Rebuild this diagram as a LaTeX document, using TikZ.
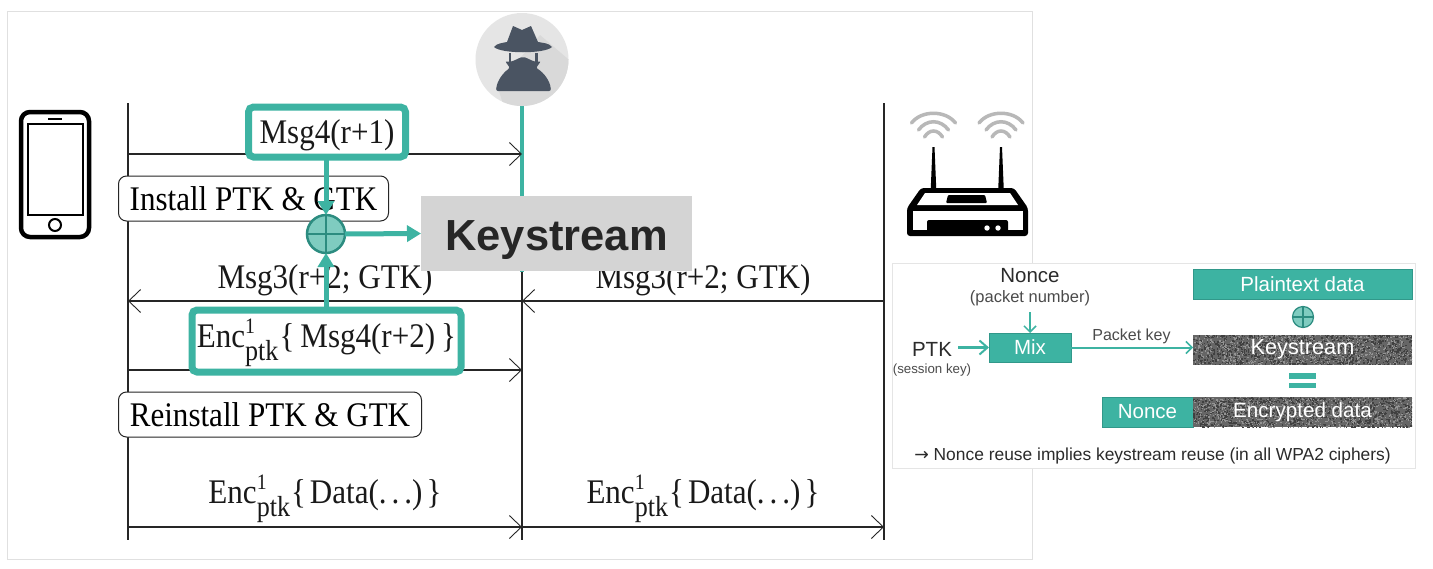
\documentclass[tikz,border=0pt]{standalone}
\usepackage{fontspec}
\setmainfont[FakeStretch=0.9]{Liberation Serif}
\setsansfont{Liberation Sans}
\newfontfamily\arrowfont{DejaVu Sans}
\usetikzlibrary{arrows.meta,calc}
\definecolor{tealmain}{HTML}{3DB3A2}
\definecolor{tealedge}{HTML}{2C8C80}
\definecolor{tealsoft}{HTML}{7FCCC0}
\definecolor{spydark}{HTML}{4A5462}
\definecolor{textdark}{HTML}{2B2B2B}
\newcommand{\encptk}{Enc\rlap{\raisebox{14pt}{\fontsize{22}{24}\selectfont 1}}\raisebox{-13.5pt}{\fontsize{29}{30}\selectfont ptk}\hspace{1pt}}

\begin{document}
\begin{tikzpicture}[
        x=1pt, y=-1pt,
        every node/.style={inner sep=0pt, outer sep=0pt},
        lifeline/.style={line width=1.3pt, black!85},
        message/.style={line width=1.3pt, black!85, -{Straight Barb[length=12pt,width=23pt,line width=0.9pt]}},
        msglabel/.style={font=\fontsize{34.5}{38}\selectfont, text=black!90},
        statebox/.style={draw=black!85, line width=1pt, fill=white, rounded corners=8pt, minimum height=45pt, font=\fontsize{34.5}{38}\selectfont},
        highlight/.style={draw=tealmain, line width=7pt, fill=white, rounded corners=5pt},
        tealarrow/.style={draw=tealmain, line width=5pt, -{Triangle[length=14pt,width=16pt]}},
        xorsign/.style={circle, draw=tealedge, fill=tealsoft, line width=2.5pt, minimum size=38pt},
        panellabel/.style={font=\sffamily\fontsize{20.5}{24}\selectfont, text=textdark},
        panelsmall/.style={font=\sffamily\fontsize{16.5}{19}\selectfont, text=textdark!85},
        panelarrow/.style={draw=tealmain, line width=2pt, -{Straight Barb[length=6pt,width=12pt,line width=1.5pt]}},
        tealbox/.style={draw=tealedge!70!tealmain, line width=0.8pt, fill=tealmain, text=white, font=\sffamily\fontsize{20.5}{24}\selectfont},
        noisebox/.style={fill=black!60, text=white, font=\sffamily\fontsize{20.6}{24}\selectfont,
            path picture={
                \foreach \i in {1,...,900} {
                    \fill[black!75] ([shift={(rnd*220,rnd*31)}]path picture bounding box.north west) rectangle +(1.5,1.5);
                    \fill[black!42] ([shift={(rnd*220,rnd*31)}]path picture bounding box.north west) rectangle +(1.2,1.2);
                }
            }}
    ]
    \useasboundingbox (0,0) rectangle (1433,568);
    \pgfmathsetseed{7}

    % Slide frame
    \node[draw=black!12, line width=1pt, fill=white, minimum width=1025pt, minimum height=548pt] (slide) at (519.5,285) {};

    % Lifelines
    \coordinate (clienttop) at (128,103);
    \coordinate (clientend) at (128,540);
    \coordinate (spytop) at (522,106);
    \coordinate (spymid) at (522,272);
    \coordinate (spyend) at (522,540);
    \coordinate (aptop) at (884,103);
    \coordinate (apend) at (884,540);
    \draw[lifeline] (clienttop) -- (clientend);
    \draw[lifeline] (spymid) -- (spyend);
    \draw[lifeline] (aptop) -- (apend);
    \draw[draw=tealmain, line width=4.5pt] (spytop) -- (spymid);

    % Message ends
    \coordinate (m4a) at (128,154);
    \coordinate (m4b) at (522,154);
    \coordinate (m3a) at (884,301);
    \coordinate (m3b) at (522,301);
    \coordinate (m3c) at (128,301);
    \coordinate (e4a) at (128,370);
    \coordinate (e4b) at (522,370);
    \coordinate (d1a) at (128,527);
    \coordinate (d1b) at (522,527);
    \coordinate (d1c) at (884,527);
    \draw[message] (m4a) -- (m4b);
    \draw[message] (m3a) -- (m3b);
    \draw[message] (m3b) -- (m3c);
    \draw[message] (e4a) -- (e4b);
    \draw[message] (d1a) -- (d1b);
    \draw[message] (d1b) -- (d1c);

    % Labels and states
    \node[msglabel, anchor=base] (m3left) at (325,288) {Msg3(r+2; GTK)};
    \node[msglabel, anchor=base] (m3right) at (703,288) {Msg3(r+2; GTK)};
    \node[statebox, minimum width=270pt, text height=28pt, text depth=5pt] (install) at (253.5,198.5) {Install PTK \& GTK};
    \node[statebox, minimum width=303pt, text height=28pt, text depth=5pt] (reinstall) at (270,414.5) {Reinstall PTK \& GTK};
    \node[msglabel, anchor=base] (data1) at (325,503) {\encptk\{\hspace{4pt}Data(.\hspace{5pt}.\hspace{5pt}.)\hspace{4pt}\}};
    \node[msglabel, anchor=base] (data2) at (703,503) {\encptk\{\hspace{4pt}Data(.\hspace{5pt}.\hspace{5pt}.)\hspace{4pt}\}};

    % Highlighted messages
    \node[highlight, minimum width=157pt, minimum height=50pt, msglabel, text height=27pt, text depth=5pt] (msg4) at (327,132) {Msg4(r+1)\hspace{7pt}};
    \node[highlight, minimum width=269pt, minimum height=62pt, msglabel, text height=22pt, text depth=10pt] (enc4) at (326.5,341) {\encptk\{\hspace{6pt}Msg4(r+2)\hspace{6pt}\}};

    % Keystream recovery
    \node[xorsign] (xor) at (326,234) {};
    \draw[tealedge, line width=2pt] (xor.north) -- (xor.south);
    \draw[tealedge, line width=2pt] (xor.west) -- (xor.east);
    \node[fill=black!17, minimum width=271pt, minimum height=75pt, font=\sffamily\bfseries\fontsize{43.5}{48}\selectfont, text=black!85, text height=33pt, text depth=0pt] (keystream) at (556.5,233.5) {Keystream};
    \draw[tealarrow] (msg4.south -| xor) -- (xor.north);
    \draw[tealarrow] (enc4.north -| xor) -- (xor.south);
    \draw[tealarrow] (xor.east) -- (keystream.west);

    % Spy
    \node[circle, fill=black!10, minimum size=93pt] (spy) at (522,59.5) {};
    \begin{scope}
        \clip (522,59.5) circle (46.5);
        \fill[black!15] (540,35) -- (575,65) -- (565,115) -- (505,110) -- (497,85) -- cycle;
    \end{scope}
    \fill[spydark] (494,47) .. controls (497,43) and (503,43) .. (507,42) -- (513,26) -- (522,30) -- (531,26) -- (538,42) .. controls (543,43) and (549,43) .. (552,47) .. controls (545,54) and (501,54) .. (494,47) -- cycle;
    \fill[spydark] (508.5,53) rectangle (511,63);
    \fill[spydark] (535,53) rectangle (537.5,63);
    \fill[spydark, rounded corners=2pt] (496,91) .. controls (497,80) and (504,72) .. (510,68) -- (505,61) .. controls (512,63) and (518,58) .. (523,57) .. controls (528,58) and (534,63) .. (541,61) -- (536,68) .. controls (543,72) and (550,80) .. (551,91) -- cycle;

    % Phone
    \node[draw=black, line width=4.5pt, rounded corners=9pt, fill=white, minimum width=68pt, minimum height=125pt] (phone) at (55,174.5) {};
    \node[draw=black, line width=1.8pt, fill=white, minimum width=55pt, minimum height=91pt] (screen) at (55.5,169.5) {};
    \node[draw=black, line width=2pt, circle, minimum size=12pt] (homekey) at (55,225) {};
    \draw[black, line width=2pt] (48,119) -- (62,119);

    % Router
    \foreach \ax/\name in {933.5/ant1, 1001/ant2} {
        \coordinate (\name) at (\ax,190);
        \fill[black] (\ax-2.8,190) -- (\ax-1,147) -- (\ax+1,147) -- (\ax+2.8,190) -- cycle;
        \draw[black!28, line width=3.5pt, line cap=round] (\ax-22,123) .. controls (\ax-12,110) and (\ax+12,110) .. (\ax+22,123);
        \draw[black!28, line width=3.5pt, line cap=round] (\ax-15,130) .. controls (\ax-7,119) and (\ax+7,119) .. (\ax+15,130);
        \draw[black!28, line width=3.5pt, line cap=round] (\ax-9,137) .. controls (\ax-4,129) and (\ax+4,129) .. (\ax+9,137);
    }
    \fill[black, rounded corners=3pt] (921,188) -- (1014,188) -- (1028,208) -- (1028,236) -- (907,236) -- (907,208) -- cycle;
    \fill[white] (925,193) -- (1010,193) -- (1018,205) -- (917,205) -- cycle;
    \fill[black, rounded corners=1pt] (948,195) -- (985,195) -- (987,203) -- (946,203) -- cycle;
    \fill[white] (913,211) rectangle (1023,230);
    \fill[black, rounded corners=2pt] (927,232) -- (927,220) -- (1008,220) -- (1008,232) -- cycle;
    \fill[white] (987,228) circle (2.7);
    \fill[white] (998,228) circle (2.7);

    % Nonce panel
    \node[draw=black!10, line width=1pt, fill=white, minimum width=523pt, minimum height=205pt] (panel) at (1153.5,365.5) {};
    \node[panellabel] (noncelabel) at (1030,276) {Nonce};
    \node[panelsmall] (packetnum) at (1030,298.5) {(packet number)};
    \node[tealbox, minimum width=82pt, minimum height=29pt] (mix) at (1030,347.5) {Mix};
    \node[panellabel] (ptk) at (932,349) {PTK};
    \node[panelsmall, font=\sffamily\fontsize{13.3}{16}\selectfont] (sessionkey) at (932,370) {(session key)};
    \node[tealbox, minimum width=219pt, minimum height=30pt] (plain) at (1302.5,284.5) {Plaintext data};
    \node[noisebox, minimum width=219pt, minimum height=30pt, font=\sffamily\fontsize{21.7}{24}\selectfont] (keybox) at (1302.5,349.5) {Keystream};
    \node[tealbox, minimum width=91pt, minimum height=30pt] (noncebox) at (1147.5,412) {Nonce};
    \node[noisebox, minimum width=219pt, minimum height=30pt] (encbox) at (1302.5,412) {Encrypted data};
    \node[circle, draw=tealedge, fill=tealsoft, line width=1.2pt, minimum size=21pt] (xorsmall) at (1303,317) {};
    \draw[tealedge, line width=1.2pt] (xorsmall.north) -- (xorsmall.south);
    \draw[tealedge, line width=1.2pt] (xorsmall.west) -- (xorsmall.east);
    \node[fill=tealmain, minimum width=27pt, minimum height=5.5pt] (eqtop) at (1302.5,376) {};
    \node[fill=tealmain, minimum width=27pt, minimum height=5.5pt] (eqbot) at (1302.5,385.5) {};
    \coordinate (ptkend) at (958,347.5);
    \coordinate (nonceend) at (1030,312);
    \draw[panelarrow] (nonceend) -- (mix.north);
    \draw[panelarrow, line width=2.5pt, -{Straight Barb[length=8pt,width=14pt,line width=2pt]}] (ptkend) -- (mix.west);
    \draw[panelarrow] (mix.east) -- (keybox.west |- mix.east);
    \node[panelsmall, font=\sffamily\fontsize{16}{19}\selectfont] (packetkey) at (1131.5,336) {Packet key};
    \node[font=\sffamily\fontsize{17.4}{20}\selectfont, text=textdark] (note) at (1152.5,456) {{\arrowfont →} Nonce reuse implies keystream reuse (in all WPA2 ciphers)};

\end{tikzpicture}
\end{document}
